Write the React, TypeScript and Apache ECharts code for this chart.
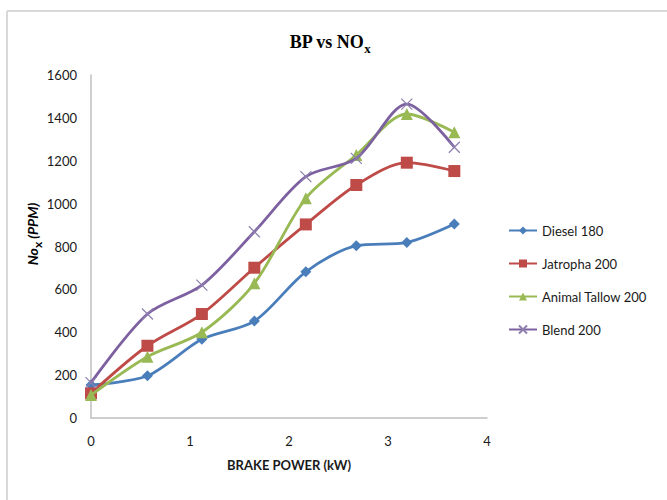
import React, { useEffect, useRef } from "react";
import * as echarts from "echarts";

const bp = [0, 0.57, 1.12, 1.65, 2.17, 2.68, 3.19, 3.67];
const diesel = [154, 197, 367, 452, 682, 804, 819, 905];
const jatropha = [115, 337, 485, 701, 903, 1087, 1191, 1152];
const tallow = [107, 286, 400, 628, 1025, 1227, 1418, 1333];
const blend = [165, 485, 620, 869, 1126, 1211, 1464, 1263];
const seriesNames = ["Diesel 180", "Jatropha 200", "Animal Tallow 200", "Blend 200"];
const colors = ["#4a7ebb", "#be4b48", "#98b954", "#7d60a0"];

const pair = (ys: number[]) => bp.map((x, i) => [x, ys[i]]);

export default function App() {
  const ref = useRef<HTMLDivElement>(null);
  useEffect(() => {
    if (!ref.current) return;
    const chart = echarts.init(ref.current, null, { renderer: "svg" });
    const font = "Lato, 'Open Sans', sans-serif";
    const mk = (i: number, data: number[], symbol: string, size: number, extra: any = {}) => ({
      name: seriesNames[i],
      type: "line",
      data: pair(data),
      smooth: 0.3,
      symbol,
      symbolSize: size,
      lineStyle: { color: colors[i], width: 2.8 },
      itemStyle: { color: colors[i], ...extra },
      z: 2 + i,
    });
    chart.setOption({
      animation: false,
      backgroundColor: "#ffffff",
      grid: { left: 91, right: 180, top: 75, bottom: 82 },
      xAxis: {
        type: "value",
        min: 0,
        max: 4,
        interval: 1,
        name: "BRAKE POWER (kW)",
        nameLocation: "middle",
        nameGap: 40,
        nameTextStyle: { fontFamily: font, fontWeight: "bold", fontSize: 13, color: "#1a1a1a" },
        axisLine: { lineStyle: { color: "#bfbfbf", width: 1.5 } },
        axisTick: { show: false },
        splitLine: { show: false },
        axisLabel: {
          margin: 16,
          fontFamily: font,
          fontSize: 13,
          color: "#1a1a1a",
          formatter: (v: number) => String(v),
        },
      },
      yAxis: {
        type: "value",
        min: 0,
        max: 1600,
        interval: 200,
        axisLine: { show: true, lineStyle: { color: "#bfbfbf", width: 1.5 } },
        axisTick: { show: false },
        splitLine: { show: false },
        axisLabel: {
          margin: 14,
          fontFamily: font,
          fontSize: 13,
          color: "#1a1a1a",
          formatter: (v: number) => String(v),
        },
      },
      legend: {
        orient: "vertical",
        left: 503,
        top: 219,
        itemWidth: 28,
        itemHeight: 10,
        itemGap: 20,
        textStyle: { fontFamily: font, fontSize: 13, color: "#1a1a1a" },
        data: seriesNames,
      },
      graphic: [
        { type: "line", shape: { x1: 7, y1: 11, x2: 667, y2: 11 }, style: { stroke: "#d9d9d9", lineWidth: 2 } },
        { type: "line", shape: { x1: 7, y1: 11, x2: 7, y2: 500 }, style: { stroke: "#d9d9d9", lineWidth: 2 } },
        {
          type: "text",
          x: 330,
          y: 42,
          style: {
            text: "{a|BP vs NO}{b|x}",
            align: "center",
            verticalAlign: "middle",
            rich: {
              a: { fontFamily: "'Liberation Serif', serif", fontWeight: "bold", fontSize: 18, color: "#111", lineHeight: 26, verticalAlign: "middle" },
              b: { fontFamily: "'Liberation Serif', serif", fontWeight: "bold", fontSize: 13, color: "#111", lineHeight: 26, verticalAlign: "bottom" },
            },
          },
        },
        {
          type: "text",
          x: 32,
          y: 234,
          rotation: Math.PI / 2,
          style: {
            text: "{a|No}{b|x}{a| (PPM)}",
            align: "center",
            verticalAlign: "middle",
            rich: {
              a: { fontFamily: font, fontWeight: "bold", fontStyle: "italic", fontSize: 14, color: "#1a1a1a", lineHeight: 22, verticalAlign: "middle" },
              b: { fontFamily: font, fontWeight: "bold", fontSize: 12, color: "#1a1a1a", lineHeight: 22, verticalAlign: "bottom" },
            },
          },
        },
      ],
      series: [
        mk(0, diesel, "diamond", 11),
        mk(1, jatropha, "rect", 12),
        mk(2, tallow, "triangle", 12),
        mk(3, blend, "path://M0,0L10,10M10,0L0,10", 11, { borderColor: "#8c7fae", borderWidth: 1.2 }),
      ],
    });
    return () => chart.dispose();
  }, []);
  return <div ref={ref} style={{ position: "fixed", left: 0, top: 0, width: 667, height: 500 }} />;
}
